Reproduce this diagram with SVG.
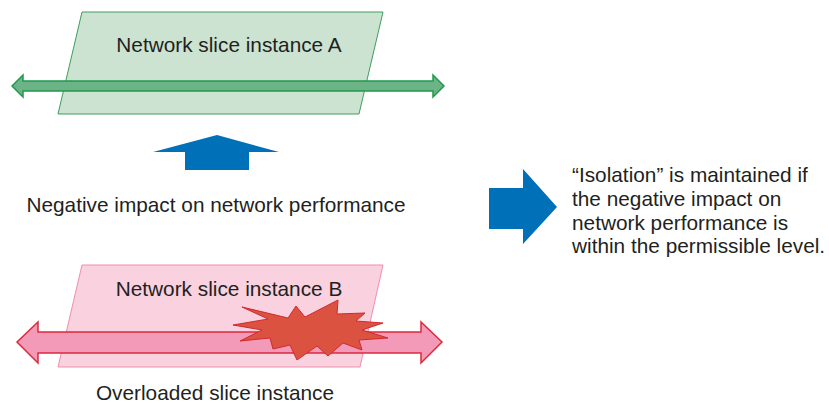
<svg xmlns="http://www.w3.org/2000/svg" width="829" height="403" viewBox="0 0 829 403">
<style>
text{font-family:"Liberation Sans",Arial,Helvetica,sans-serif;font-size:20.8px;fill:#231f20}
.mid{text-anchor:middle}
.pA{fill:#cce3d2;stroke:#3f9e5a;stroke-width:1}
.pB{fill:#f9d1df;stroke:#f08fac;stroke-width:1}
.arA{fill:#6cb387;stroke:#1f9a4b;stroke-width:1.5}
.arB{fill:#f39ab8;stroke:#dc2a3c;stroke-width:1.5}
.blue{fill:#0070b9}
.boom{fill:#db5340;stroke:#d02a2e;stroke-width:1}
</style>
<rect width="829" height="403" fill="#fff"/>
<g id="sliceA">
<polygon class="pA" points="82,12 383,12 359,114 58,114"/>
<text class="mid" x="229" y="52">Network slice instance A</text>
</g>
<g id="sliceB">
<polygon class="pB" points="82,265 383,265 360,367 58,367"/>
<text class="mid" x="229" y="296">Network slice instance B</text>
</g>
<g id="connectors">
<polygon class="arA" points="12,86 23,75 23,81 433,81 433,75 444,86 433,97 433,91 23,91 23,97"/>
<polygon class="arB" points="17,342 38,322 38,332 421,332 421,322 442,342 421,363 421,353 38,353 38,363"/>
<polygon class="blue" points="217,135 279,152 249,152 249,170 185,170 185,152 153,152"/>
<polygon class="blue" points="489,188 523,188 523,169 557,207 523,244 523,229 489,229"/>
</g>
<g id="overload">
<polygon class="boom" points="242,307 288,318 296,306 305,317 338,300 337,314 365,313 356,321 383,323 362,330 388,338 359,340 362,350 343,343 328,356 317,346 297,360 290,345 273,349 270,338 240,341 262,330 233,325 268,319"/>
</g>
<g id="labels">
<text class="mid" x="216" y="212">Negative impact on network performance</text>
<text class="mid" x="215" y="400">Overloaded slice instance</text>
<text x="572" y="182">“Isolation” is maintained if</text>
<text x="572" y="206">the negative impact on</text>
<text x="572" y="230">network performance is</text>
<text x="572" y="253">within the permissible level.</text>
</g>
</svg>
